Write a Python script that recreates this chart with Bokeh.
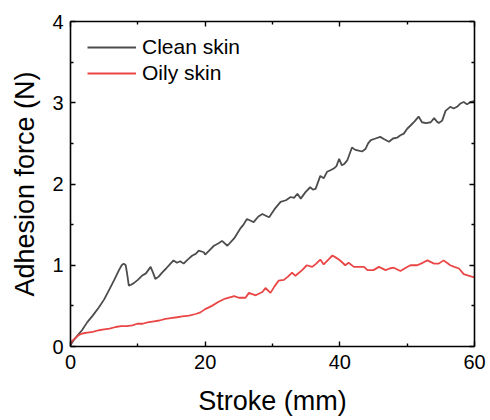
from bokeh.plotting import figure
from bokeh.models import Range1d, LinearAxis, Legend, LegendItem, FixedTicker, CustomLabelingPolicy
from bokeh.embed import file_html
from bokeh.resources import INLINE

# ---- data ----
clean_x = [0.0, 0.5, 1.0, 1.7, 2.5, 3.3, 4.2, 5.0, 5.7, 6.5, 7.2, 7.6, 7.9, 8.2, 8.4, 8.66, 9.0, 9.4,
           10.0, 10.6, 11.2, 11.9, 12.3, 12.6, 13.1, 13.6, 14.2, 14.85, 15.3, 15.8, 16.3, 16.8, 17.4,
           18.1, 18.6, 19.05, 19.8, 20.0, 20.7, 21.3, 22.0, 22.5, 23.3, 24.3, 25.2, 25.7, 26.2, 26.7,
           27.2, 27.9, 28.5, 29.0, 29.5, 30.3, 31.2, 32.0, 32.7, 33.2, 33.7, 34.2, 34.9, 35.6, 36.0,
           36.4, 37.1, 37.6, 38.1, 38.6, 39.1, 39.5, 39.9, 40.3, 40.7, 41.1, 41.8, 42.3, 42.8, 43.3,
           43.8, 44.2, 44.6, 45.3, 46.0, 46.6, 47.3, 47.9, 48.5, 49.0, 49.5, 50.0, 50.5, 51.1, 51.7,
           52.2, 52.8, 53.5, 54.0, 54.4, 54.7, 55.2, 55.7, 56.4, 56.9, 57.4, 57.9, 58.4, 58.9, 59.4, 60.0]
clean_y = [0.02, 0.08, 0.13, 0.20, 0.30, 0.38, 0.48, 0.58, 0.69, 0.82, 0.94, 1.00, 1.02, 1.00, 0.90, 0.75, 0.76, 0.78,
           0.82, 0.87, 0.90, 0.98, 0.90, 0.83, 0.86, 0.91, 0.96, 1.02, 1.06, 1.03, 1.05, 1.02, 1.07,
           1.12, 1.14, 1.18, 1.16, 1.13, 1.19, 1.24, 1.27, 1.30, 1.24, 1.33, 1.45, 1.50, 1.57, 1.55,
           1.53, 1.60, 1.63, 1.61, 1.59, 1.69, 1.78, 1.80, 1.84, 1.83, 1.88, 1.82, 1.90, 1.96, 1.93,
           1.94, 2.10, 2.07, 2.15, 2.17, 2.19, 2.22, 2.31, 2.23, 2.25, 2.29, 2.45, 2.42, 2.41, 2.40,
           2.43, 2.50, 2.54, 2.56, 2.58, 2.55, 2.52, 2.56, 2.57, 2.60, 2.62, 2.68, 2.72, 2.77, 2.83,
           2.76, 2.75, 2.76, 2.81, 2.77, 2.75, 2.78, 2.90, 2.95, 2.93, 2.95, 2.99, 3.01, 2.98, 3.01, 3.02]

oily_x = [0.0, 0.25, 0.8, 1.2, 1.74, 2.5, 3.3, 4.2, 5.0, 5.8, 6.7, 7.5, 8.3, 9.2, 9.9, 10.7, 11.6, 12.4,
          13.2, 14.1, 14.9, 15.8, 16.6, 17.6, 18.6, 19.3, 20.0, 21.0, 22.0, 23.0, 24.3, 25.0, 26.0,
          26.5, 27.5, 28.5, 28.96, 29.7, 30.3, 30.9, 31.7, 32.3, 32.9, 33.4, 34.4, 35.1, 35.9, 36.5,
          37.1, 37.6, 38.3, 38.9, 39.3, 39.85, 40.3, 40.8, 41.3, 42.1, 43.0, 43.6, 44.1, 45.0, 45.8,
          46.8, 47.4, 48.0, 49.0, 49.8, 50.5, 51.5, 52.3, 53.0, 54.0, 54.7, 55.4, 55.9, 56.4, 57.0,
          57.7, 58.4, 59.2, 60.0]
oily_y = [0.03, 0.07, 0.11, 0.14, 0.16, 0.17, 0.18, 0.20, 0.21, 0.22, 0.24, 0.25, 0.25, 0.26, 0.28, 0.28, 0.30, 0.31,
          0.32, 0.34, 0.35, 0.36, 0.37, 0.38, 0.40, 0.42, 0.46, 0.50, 0.55, 0.59, 0.62, 0.60, 0.60,
          0.66, 0.63, 0.67, 0.72, 0.66, 0.74, 0.81, 0.82, 0.86, 0.91, 0.87, 0.94, 1.00, 0.98, 1.02,
          1.07, 1.01, 1.07, 1.12, 1.10, 1.07, 1.04, 1.00, 1.03, 0.98, 0.98, 0.98, 0.94, 0.94, 0.98,
          0.94, 0.96, 0.97, 0.93, 0.97, 1.00, 1.00, 1.03, 1.06, 1.02, 1.02, 1.06, 1.03, 1.00, 0.98,
          0.96, 0.89, 0.87, 0.85]

series_labels = ["Clean skin", "Oily skin"]
x_ticks = [0, 20, 40, 60]
y_ticks = [0, 1, 2, 3, 4]
x_label = "Stroke (mm)"
y_label = "Adhesion force (N)"

FONT = "Liberation Sans"

p = figure(width=490, height=420, output_backend="svg", toolbar_location=None,
           x_range=Range1d(0, 60), y_range=Range1d(0, 4),
           min_border_left=70, min_border_right=16, min_border_top=21, min_border_bottom=74)
p.outline_line_color = None
p.xgrid.visible = False
p.ygrid.visible = False
p.background_fill_color = "white"
p.border_fill_color = "white"

r1 = p.line(clean_x, clean_y, line_color="#4d4d4d", line_width=1.8)
r2 = p.line(oily_x, oily_y, line_color="#ea4646", line_width=1.8)

no_labels = CustomLabelingPolicy(code="return new Set()")

def style_axis(ax, ticks, show_labels=True):
    ax.ticker = FixedTicker(ticks=ticks, minor_ticks=[t + (ticks[1] - ticks[0]) / 2 for t in ticks[:-1]])
    ax.axis_line_color = "black"
    ax.axis_line_width = 1.6
    ax.major_tick_in = 5
    ax.major_tick_out = 0
    ax.minor_tick_in = 3
    ax.minor_tick_out = 0
    ax.major_tick_line_width = 1.4
    ax.minor_tick_line_width = 1.4
    ax.major_tick_line_color = "black"
    ax.minor_tick_line_color = "black"
    ax.major_label_text_font = FONT
    ax.major_label_text_font_size = "20px"
    ax.major_label_text_color = "black"
    ax.axis_label_text_font = FONT
    ax.axis_label_text_font_size = "27px"
    ax.axis_label_text_font_style = "normal"
    ax.axis_label_text_color = "black"
    if not show_labels:
        ax.major_label_policy = no_labels
        ax.major_label_standoff = 0

xa = p.xaxis[0]
ya = p.yaxis[0]
style_axis(xa, x_ticks)
style_axis(ya, y_ticks)
xa.axis_label = x_label
ya.axis_label = y_label
xa.major_label_standoff = 8
ya.major_label_standoff = 7
xa.axis_label_standoff = 14
ya.axis_label_standoff = 9

top = LinearAxis()
right = LinearAxis()
style_axis(top, x_ticks, show_labels=False)
style_axis(right, y_ticks, show_labels=False)
p.add_layout(top, "above")
p.add_layout(right, "right")

legend = Legend(items=[LegendItem(label=series_labels[0], renderers=[r1]),
                       LegendItem(label=series_labels[1], renderers=[r2])],
                location=(17, 261), orientation="vertical")
legend.background_fill_alpha = 0
legend.border_line_alpha = 0
legend.padding = 0
legend.margin = 0
legend.spacing = 2
legend.glyph_width = 49
legend.glyph_height = 24
legend.label_height = 24
legend.label_standoff = 6
legend.label_text_font = FONT
legend.label_text_font_size = "21px"
legend.label_text_color = "black"
p.add_layout(legend, "center")

open("out.html", "w").write(file_html(p, INLINE))
